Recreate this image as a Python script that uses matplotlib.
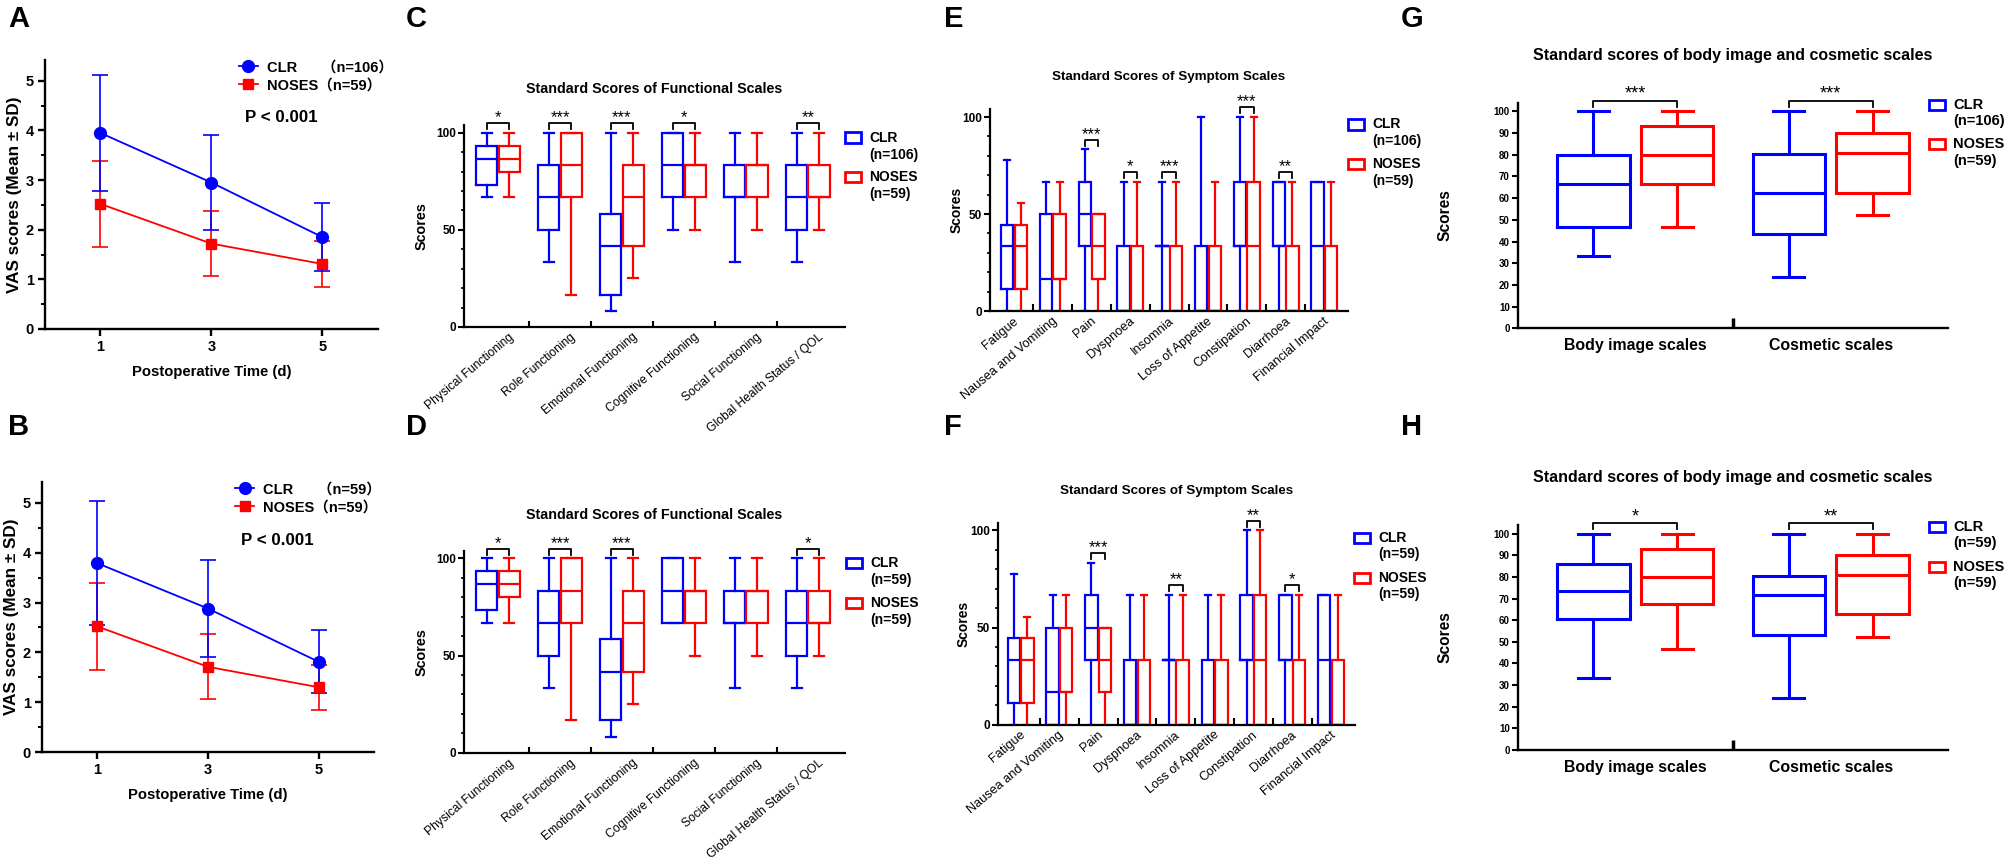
import numpy as np
import matplotlib
matplotlib.use("Agg")
import matplotlib.pyplot as plt
from matplotlib.ticker import MultipleLocator, FixedLocator
from matplotlib.patches import Rectangle
from matplotlib.transforms import ScaledTranslation

plt.rcParams['font.family'] = ['Liberation Sans', 'Noto Sans CJK SC', 'DejaVu Sans']
plt.rcParams['font.weight'] = 'bold'
plt.rcParams['axes.labelweight'] = 'bold'
plt.rcParams['axes.titleweight'] = 'bold'

BLUE = '#0000ff'
RED = '#ff0000'

# ---------------- VAS scores (A, B) ----------------
days = [1, 3, 5]
a_clr_mean = [3.95, 2.95, 1.85]
a_clr_sd = [1.16, 0.95, 0.69]
a_noses_mean = [2.52, 1.72, 1.31]
a_noses_sd = [0.87, 0.65, 0.46]
b_clr_mean = [3.79, 2.88, 1.81]
b_clr_sd = [1.24, 0.98, 0.63]
b_noses_mean = [2.52, 1.71, 1.30]
b_noses_sd = [0.87, 0.65, 0.45]

# ---------------- functional scales (C, D) ----------------
# rows: (whisker low, Q1, median, Q3, whisker high)
func_labels = ['Physical Functioning', 'Role Functioning', 'Emotional Functioning',
               'Cognitive Functioning', 'Social Functioning', 'Global Health Status / QOL']
c_clr = [(66.7, 73.3, 86.7, 93.3, 100), (33.3, 50, 66.7, 83.3, 100),
         (8.3, 16.7, 41.7, 58.3, 100), (50, 66.7, 83.3, 100, 100),
         (33.3, 66.7, 66.7, 83.3, 100), (33.3, 50, 66.7, 83.3, 100)]
c_noses = [(66.7, 80, 86.7, 93.3, 100), (16.7, 66.7, 83.3, 100, 100),
           (25, 41.7, 66.7, 83.3, 100), (50, 66.7, 83.3, 83.3, 100),
           (50, 66.7, 83.3, 83.3, 100), (50, 66.7, 66.7, 83.3, 100)]
c_stars = ['*', '***', '***', '*', '', '**']
d_clr = [(66.7, 73.3, 86.7, 93.3, 100), (33.3, 50, 66.7, 83.3, 100),
         (8.3, 16.7, 41.7, 58.3, 100), (66.7, 66.7, 83.3, 100, 100),
         (33.3, 66.7, 66.7, 83.3, 100), (33.3, 50, 66.7, 83.3, 100)]
d_noses = [(66.7, 80, 86.7, 93.3, 100), (16.7, 66.7, 83.3, 100, 100),
           (25, 41.7, 66.7, 83.3, 100), (50, 66.7, 83.3, 83.3, 100),
           (50, 66.7, 83.3, 83.3, 100), (50, 66.7, 66.7, 83.3, 100)]
d_stars = ['*', '***', '***', '', '', '*']

# ---------------- symptom scales (E, F) ----------------
symp_labels = ['Fatigue', 'Nausea and Vomiting', 'Pain', 'Dyspnoea', 'Insomnia',
               'Loss of Appetite', 'Constipation', 'Diarrhoea', 'Financial Impact']
e_clr = [(0, 11.1, 33.3, 44.4, 77.8), (0, 0, 16.7, 50, 66.7), (0, 33.3, 50, 66.7, 83.3),
         (0, 0, 0, 33.3, 66.7), (0, 33.3, 33.3, 33.3, 66.7), (0, 0, 0, 33.3, 100),
         (0, 33.3, 33.3, 66.7, 100), (0, 33.3, 33.3, 66.7, 66.7), (0, 0, 33.3, 66.7, 66.7)]
e_noses = [(0, 11.1, 33.3, 44.4, 55.6), (0, 16.7, 16.7, 50, 66.7), (0, 16.7, 33.3, 50, 50),
           (0, 0, 0, 33.3, 66.7), (0, 0, 0, 33.3, 66.7), (0, 0, 0, 33.3, 66.7),
           (0, 0, 33.3, 66.7, 100), (0, 0, 0, 33.3, 66.7), (0, 0, 0, 33.3, 66.7)]
e_stars = ['', '', '***', '*', '***', '', '***', '**', '']
f_clr = [(0, 11.1, 33.3, 44.4, 77.8), (0, 0, 16.7, 50, 66.7), (0, 33.3, 50, 66.7, 83.3),
         (0, 0, 0, 33.3, 66.7), (0, 33.3, 33.3, 33.3, 66.7), (0, 0, 0, 33.3, 66.7),
         (0, 33.3, 33.3, 66.7, 100), (0, 33.3, 33.3, 66.7, 66.7), (0, 0, 33.3, 66.7, 66.7)]
f_noses = [(0, 11.1, 33.3, 44.4, 55.6), (0, 16.7, 16.7, 50, 66.7), (0, 16.7, 33.3, 50, 50),
           (0, 0, 0, 33.3, 66.7), (0, 0, 0, 33.3, 66.7), (0, 0, 0, 33.3, 66.7),
           (0, 0, 33.3, 66.7, 100), (0, 0, 0, 33.3, 66.7), (0, 0, 0, 33.3, 66.7)]
f_stars = ['', '', '***', '', '**', '', '**', '*', '']

# ---------------- body image / cosmetic (G, H) ----------------
body_labels = ['Body image scales', 'Cosmetic scales']
g_clr = [(33.3, 46.7, 66.7, 80.0, 100), (23.8, 43.5, 62.2, 80.5, 100)]
g_noses = [(46.7, 66.7, 80.0, 93.3, 100), (52.4, 62.5, 81.0, 90.0, 100)]
g_stars = ['***', '***']
h_clr = [(33.3, 60.6, 73.3, 86.1, 100), (23.9, 53.0, 71.5, 80.4, 100)]
h_noses = [(46.7, 67.3, 80.0, 92.9, 100), (52.4, 62.7, 81.0, 90.0, 100)]
h_stars = ['*', '**']

W, H = 2006, 858
fig = plt.figure(figsize=(W / 100, H / 100), dpi=100)


def px_axes(l, t, r, b):
    return fig.add_axes([l / W, 1 - b / H, (r - l) / W, (b - t) / H])


def vas_panel(rect, clr_mean, clr_sd, noses_mean, noses_sd, clr_lab, noses_lab):
    ax = px_axes(*rect)
    ekw = dict(fmt='none', elinewidth=1.2, capsize=5.5, capthick=1.2)
    ax.errorbar(days, noses_mean, yerr=noses_sd, ecolor=RED, **ekw)
    ax.errorbar(days, clr_mean, yerr=clr_sd, ecolor=BLUE, **ekw)
    h1, = ax.plot(days, clr_mean, color=BLUE, lw=1.3, marker='o', ms=8.5)
    h2, = ax.plot(days, noses_mean, color=RED, lw=1.3, marker='s', ms=7.5)
    ax.set_xlim(0, 6)
    ax.set_ylim(0, 5.42)
    ax.set_xticks(days)
    ax.yaxis.set_major_locator(MultipleLocator(1))
    ax.yaxis.set_minor_locator(MultipleLocator(0.5))
    for sp in ('top', 'right'):
        ax.spines[sp].set_visible(False)
    for sp in ('left', 'bottom'):
        ax.spines[sp].set_linewidth(1.7)
    ax.tick_params(which='major', length=5, width=1.7, labelsize=10.5, pad=3)
    ax.tick_params(which='minor', length=3, width=1.4)
    ax.tick_params(axis='x', which='minor', length=0)
    ax.set_ylabel('VAS scores (Mean ± SD)', fontsize=12.3)
    ax.set_xlabel('Postoperative Time (d)', fontsize=10.7)
    ax.yaxis.set_label_coords(-0.068, 0.5)
    ax.xaxis.set_label_coords(0.5, -0.135)
    ax.legend([h1, h2], [clr_lab, noses_lab], loc='upper left', bbox_to_anchor=(0.565, 1.02),
              frameon=False, prop=dict(size=10.5, weight='bold'), handlelength=1.3,
              handletextpad=0.6, labelspacing=0.25, borderaxespad=0)
    ax.text(0.71, 0.785, 'P < 0.001', transform=ax.transAxes, ha='center', va='center',
            fontsize=12.2)
    return ax


def box_panel(rect, labels, clr, noses, stars, title, st):
    ax = px_axes(*rect)
    pos = np.arange(len(labels))
    off, wid, lw = st['off'], st['width'], st['lw']
    for rows, sgn, col in ((clr, -1, BLUE), (noses, 1, RED)):
        stats = [dict(whislo=r[0], q1=r[1], med=r[2], q3=r[3], whishi=r[4]) for r in rows]
        line = dict(color=col, linewidth=lw, solid_joinstyle='miter')
        ax.bxp(stats, positions=pos + sgn * off, widths=wid, capwidths=wid * st['cap'],
               showfliers=False, manage_ticks=False, boxprops=line, whiskerprops=line,
               capprops=line, medianprops=line)
    for i, s in enumerate(stars):
        if not s:
            continue
        top = max(clr[i][4], noses[i][4]) + 5
        ax.plot([i - off, i - off, i + off, i + off], [top - 3, top, top, top - 3],
                color='black', lw=1.3, clip_on=False)
        ax.text(i, top + st['star_dy'], s, ha='center', va='baseline', fontweight='normal',
                fontsize=st['star_fs'], clip_on=False)
    ax.set_xlim(*st['xlim'])
    ax.set_ylim(0, 104)
    for sp in ('top', 'right'):
        ax.spines[sp].set_visible(False)
    for sp in ('left', 'bottom'):
        ax.spines[sp].set_linewidth(st['spine'])
    ax.set_xticks(pos)
    ax.set_xticklabels(labels, **st['xtl'])
    ax.xaxis.set_minor_locator(FixedLocator(pos[:-1] + 0.5))
    ax.tick_params(axis='x', which='major', length=0, pad=st['xpad'])
    ax.tick_params(axis='x', which='minor', direction='in', length=st['xtick_len'],
                   width=st['xtick_w'])
    ax.yaxis.set_major_locator(MultipleLocator(st['ystep']))
    if st['yminor']:
        ax.yaxis.set_minor_locator(MultipleLocator(st['yminor']))
    ax.tick_params(axis='y', which='major', length=4, width=1.5, labelsize=st['ytl'], pad=2)
    ax.tick_params(axis='y', which='minor', length=2.5, width=1.2)
    ax.set_ylabel('Scores', fontsize=st['ylab'])
    ax.yaxis.set_label_coords(st['ylab_x'], 0.5)
    ax.set_title(title, fontsize=st['title'], pad=st['tpad'])
    if st['shift']:
        tr = ScaledTranslation(st['shift'] / 100, 0, fig.dpi_scale_trans)
        for lbl in ax.get_xticklabels():
            lbl.set_transform(lbl.get_transform() + tr)
    return ax


def box_legend(x, y, names, fs, dy):
    for yy, (name, n), col in zip(y, names, (BLUE, RED)):
        fig.add_artist(Rectangle((x / W, 1 - (yy + 5) / H), 16 / W, 10 / H,
                                 transform=fig.transFigure, fill=False, ec=col, lw=2))
        fig.text((x + 24) / W, 1 - yy / H, name, fontsize=fs, va='center')
        fig.text((x + 24) / W, 1 - (yy + dy) / H, n, fontsize=fs, va='center')


func_style = dict(off=0.18, width=0.34, cap=0.48, lw=1.6, star_dy=0.5, star_fs=12,
                  xlim=(-0.55, 5.6), spine=1.6,
                  xtl=dict(rotation=40, ha='right', va='top', rotation_mode='anchor',
                           fontsize=8.7, fontweight='normal'),
                  xpad=3, xtick_len=4, xtick_w=1.5, ystep=50, yminor=10, ytl=8.5,
                  ylab=10.4, ylab_x=-0.092, title=10.3, tpad=23, shift=10)
symp_style = dict(func_style, off=0.175, width=0.32, xlim=(-0.62, 8.61), xtick_len=5,
                  xtl=dict(func_style['xtl'], fontsize=9.2),
                  ylab=10, ylab_x=-0.073, title=9.6, tpad=21, shift=-1)
body_style = dict(off=0.214, width=0.37, cap=0.43, lw=2.2, star_dy=0.8, star_fs=13,
                  xlim=(-0.6, 1.6), spine=1.7,
                  xtl=dict(fontsize=11.4),
                  xpad=7, xtick_len=7, xtick_w=2.5, ystep=10, yminor=None, ytl=7,
                  ylab=11.2, ylab_x=-0.153, title=11.5, tpad=31, shift=0)

vas_panel((45, 60, 378, 329), a_clr_mean, a_clr_sd, a_noses_mean, a_noses_sd,
          'CLR      （n=106）', 'NOSES（n=59）')
vas_panel((42, 482, 374, 752), b_clr_mean, b_clr_sd, b_noses_mean, b_noses_sd,
          'CLR      （n=59）', 'NOSES（n=59）')

box_panel((464, 125, 845, 327), func_labels, c_clr, c_noses, c_stars,
          'Standard Scores of Functional Scales', func_style)
box_panel((464, 550.7, 845, 752.7), func_labels, d_clr, d_noses, d_stars,
          'Standard Scores of Functional Scales', func_style)
box_panel((990, 109.3, 1348, 311), symp_labels, e_clr, e_noses, e_stars,
          'Standard Scores of Symptom Scales', symp_style)
fsty = dict(symp_style, xlim=(-0.585, 8.62), ylab_x=-0.076)
box_panel((998, 522.7, 1355, 724.7), symp_labels, f_clr, f_noses, f_stars,
          'Standard Scores of Symptom Scales', fsty)
box_panel((1518, 102.7, 1948, 328.3), body_labels, g_clr, g_noses, g_stars,
          'Standard scores of body image and cosmetic scales', body_style)
box_panel((1518, 525, 1948, 750), body_labels, h_clr, h_noses, h_stars,
          'Standard scores of body image and cosmetic scales', body_style)

box_legend(845, (137.5, 177), [('CLR', '(n=106)'), ('NOSES', '(n=59)')], 10, 17)
box_legend(846, (563.3, 603.3), [('CLR', '(n=59)'), ('NOSES', '(n=59)')], 10, 17)
box_legend(1348, (124.5, 164), [('CLR', '(n=106)'), ('NOSES', '(n=59)')], 10, 16.7)
box_legend(1354, (537.7, 577.7), [('CLR', '(n=59)'), ('NOSES', '(n=59)')], 10, 16.7)
box_legend(1929, (105, 144.3), [('CLR', '(n=106)'), ('NOSES', '(n=59)')], 10.5, 16.4)
box_legend(1929, (526.7, 566.7), [('CLR', '(n=59)'), ('NOSES', '(n=59)')], 10.5, 16.4)

for letter, x, y in [('A', 8, 5), ('B', 8, 413), ('C', 406, 5), ('D', 406, 413),
                     ('E', 944, 5), ('F', 944, 413), ('G', 1401, 5), ('H', 1401, 413)]:
    fig.text(x / W, 1 - y / H, letter, fontsize=21, va='top', ha='left')

fig.savefig('out.png', dpi=100, facecolor='white')
